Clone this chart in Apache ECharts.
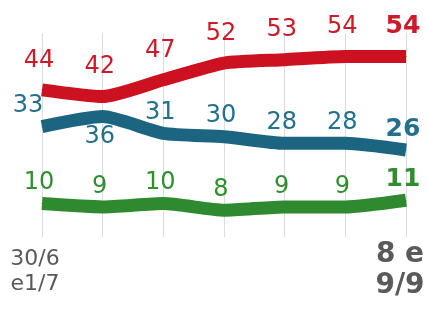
<!DOCTYPE html>
<html>
<head>
<meta charset="utf-8">
<script src="https://cdn.jsdelivr.net/npm/echarts@6/dist/echarts.min.js"></script>
<style>
  html, body { margin: 0; padding: 0; background: #fff; }
  #main { width: 428px; height: 311px; }
</style>
</head>
<body>
<div id="main"></div>
<script>
  // poll dates
  var dates = ['30/6\ne1/7', '', '', '', '', '', '8 e\n9/9'];
  // series values
  var redVals = [44, 42, 47, 52, 53, 54, 54];
  var blueVals = [33, 36, 31, 30, 28, 28, 26];
  var greenVals = [10, 9, 10, 8, 9, 9, 11];

  var font = 'DejaVu Sans';

  function makeData(vals, special) {
    return vals.map(function (v, i) {
      var item = { value: v };
      if (i === vals.length - 1) {
        item.label = { fontWeight: 'bold', fontSize: 25 };
      }
      if (special && special[i]) {
        item.label = Object.assign(item.label || {}, special[i]);
      }
      return item;
    });
  }

  function lineSeries(name, vals, color, labelColor, dist, special) {
    return {
      name: name,
      type: 'line',
      data: makeData(vals, special),
      smooth: 0.2,
      showSymbol: true,
      symbol: 'circle',
      symbolSize: 1,
      lineStyle: { color: color, width: 13, cap: 'butt' },
      itemStyle: { color: color },
      label: {
        show: true,
        position: 'top',
        distance: dist,
        offset: [-3, 0],
        color: labelColor,
        fontFamily: font,
        fontSize: 24
      },
      emphasis: { disabled: true }
    };
  }

  var chart = echarts.init(document.getElementById('main'));
  chart.setOption({
    animation: false,
    grid: { left: 42, right: 22, top: 33, bottom: 74, outerBoundsMode: 'none' },
    xAxis: {
      type: 'category',
      data: dates,
      boundaryGap: false,
      axisLine: { show: false },
      axisTick: { show: false },
      splitLine: { show: true, lineStyle: { color: '#dcdcdc', width: 1 } },
      axisLabel: {
        interval: 0,
        margin: 2,
        formatter: function (v, i) {
          var parts = v.split('\n');
          if (i === 0) return '{s| }\n{a|' + parts[0] + '}\n{a|' + parts[1] + '}';
          if (i === dates.length - 1) return '{b|' + parts[0] + '}\n{b|' + parts[1] + '}';
          return '';
        },
        rich: {
          s: { fontSize: 1, lineHeight: 8 },
          a: { fontFamily: font, fontSize: 22, color: '#5a5a5a', lineHeight: 25, padding: [0, 14, 0, 0] },
          b: { fontFamily: font, fontSize: 28, fontWeight: 'bold', color: '#5a5a5a', lineHeight: 31, padding: [0, 12, 0, 0] }
        }
      }
    },
    yAxis: {
      type: 'value',
      min: 0,
      max: 61,
      show: false,
      splitLine: { show: false }
    },
    series: [
      lineSeries('red', redVals, '#cc1120', '#cc1a28', 17),
      lineSeries('blue', blueVals, '#1c6580', '#236f8c', 8, {
        0: { offset: [-14, 0] },
        1: { position: 'bottom', distance: 8 }
      }),
      lineSeries('green', greenVals, '#2f8a2f', '#2f8f2f', 8)
    ]
  });
</script>
</body>
</html>
